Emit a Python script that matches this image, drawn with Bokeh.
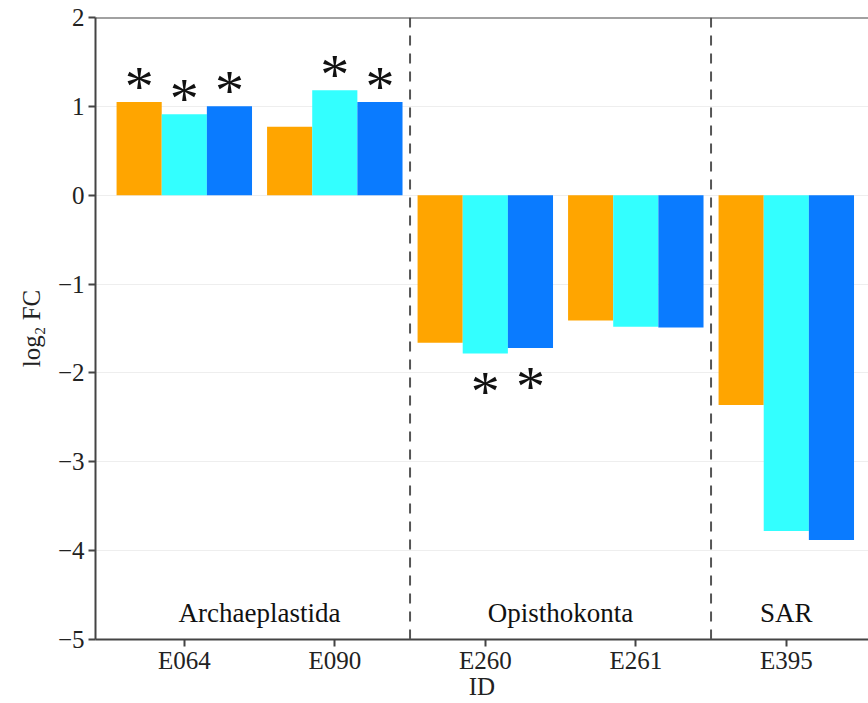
from bokeh.plotting import figure
from bokeh.models import Range1d, FixedTicker, Span, ColumnDataSource
from bokeh.core.properties import value
from bokeh.embed import file_html
from bokeh.resources import INLINE

# ---- data ----
ids = ["E064", "E090", "E260", "E261", "E395"]
groups = ["Archaeplastida", "Opisthokonta", "SAR"]
group_centers = [1.5, 3.5, 5.0]
group_bounds = [2.5, 4.5]
series_a = [1.05, 0.77, -1.66, -1.41, -2.36]   # orange
series_b = [0.91, 1.18, -1.78, -1.48, -3.78]   # cyan
series_c = [1.00, 1.05, -1.72, -1.49, -3.88]   # blue
sig_a = [True, False, False, False, False]
sig_b = [True, True, True, False, False]
sig_c = [True, True, True, False, False]
y_ticks = [-5, -4, -3, -2, -1, 0, 1, 2]
y_tick_labels = ["\u22125", "\u22124", "\u22123", "\u22122", "\u22121", "0", "1", "2"]

colors = ["#FFA500", "#33FFFF", "#0A7BFF"]
FONT = "Liberation Serif"
AX = "#444444"

p = figure(width=868, height=703, output_backend="svg", toolbar_location=None,
           x_range=Range1d(0.41, 0.41 + 773 / 150.5), y_range=Range1d(-5, 2),
           min_border_left=95, min_border_top=17, min_border_right=0, min_border_bottom=64)
p.outline_line_color = None
p.background_fill_color = "white"

xs = list(range(1, len(ids) + 1))
bw = 0.3
offsets = [-0.3, 0.0, 0.3]
for vals, sig, off, col in zip([series_a, series_b, series_c], [sig_a, sig_b, sig_c], offsets, colors):
    src = ColumnDataSource(dict(x=[x + off for x in xs], top=vals))
    p.vbar(x="x", width=bw, top="top", bottom=0, source=src, fill_color=col, line_color=None)
    pos_x = [x + off for x, v, s in zip(xs, vals, sig) if s and v > 0]
    pos_y = [v for v, s in zip(vals, sig) if s and v > 0]
    neg_x = [x + off for x, v, s in zip(xs, vals, sig) if s and v < 0]
    neg_y = [v for v, s in zip(vals, sig) if s and v < 0]
    if pos_x:
        p.text(x=pos_x, y=pos_y, text=["*"] * len(pos_x), text_font=value(FONT),
               text_font_size="58px", text_align="center", text_baseline="bottom",
               y_offset=17, text_color="#111111")
    if neg_x:
        p.text(x=neg_x, y=neg_y, text=["*"] * len(neg_x), text_font=value(FONT),
               text_font_size="58px", text_align="center", text_baseline="bottom",
               y_offset=71, text_color="#111111")

for b in group_bounds:
    p.add_layout(Span(location=b, dimension="height", line_color="#555555",
                      line_width=2, line_dash="10 8"))

p.text(x=group_centers, y=[-4.7] * len(groups), text=groups, text_font=value(FONT),
       text_font_size="27px", text_align="center", text_baseline="middle", text_color="#111111")

p.add_layout(Span(location=2, dimension="width", line_color=AX, line_width=2))

p.xgrid.visible = False
p.ygrid.grid_line_color = "#eeeeee"
p.ygrid.grid_line_width = 1

p.xaxis.ticker = FixedTicker(ticks=xs)
p.xaxis.major_label_overrides = {x: t for x, t in zip(xs, ids)}
p.yaxis.ticker = FixedTicker(ticks=y_ticks)
p.yaxis.major_label_overrides = {t: l for t, l in zip(y_ticks, y_tick_labels)}
p.ygrid.ticker = FixedTicker(ticks=y_ticks)

for ax in (p.xaxis, p.yaxis):
    ax.axis_line_color = AX
    ax.axis_line_width = 2
    ax.major_tick_line_color = AX
    ax.major_tick_line_width = 2
    ax.major_tick_in = 0
    ax.major_tick_out = 7
    ax.minor_tick_line_color = None
    ax.major_label_text_font = FONT
    ax.major_label_text_font_size = "25px"
    ax.major_label_text_color = "#222222"
    ax.axis_label_text_font = FONT
    ax.axis_label_text_font_size = "25px"
    ax.axis_label_text_font_style = "normal"
    ax.axis_label_text_color = "#222222"

p.xaxis.axis_label = "ID"
p.yaxis.axis_label = "log\u2082 FC"
p.xaxis.major_label_standoff = 0
p.xaxis.axis_label_standoff = -4
p.yaxis.major_label_standoff = 4
p.yaxis.axis_label_standoff = 10

open("out.html", "w").write(file_html(p, INLINE))
